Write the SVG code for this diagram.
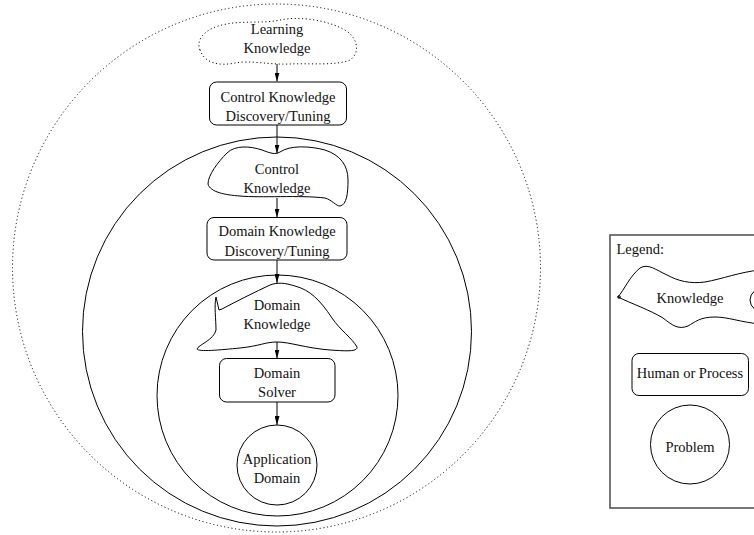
<svg xmlns="http://www.w3.org/2000/svg" width="754" height="535" viewBox="0 0 754 535">
<defs>
<marker id="ah" markerWidth="9" markerHeight="5" refX="9" refY="2.5" orient="auto" markerUnits="userSpaceOnUse">
<path d="M0,0 L9,2.5 L0,5 Z" fill="#000"/>
</marker>
<style>
text{font-family:'Liberation Serif','DejaVu Serif',serif;font-size:14.5px;fill:#111;text-anchor:middle}
.s{fill:none;stroke:#000;stroke-width:1}
.d{fill:none;stroke:#000;stroke-width:1;stroke-dasharray:1.1 2.6}
.c{fill:none;stroke:#000;stroke-width:1;marker-end:url(#ah)}
</style>
</defs>
<rect width="754" height="535" fill="#fff"/>

<g id="regions">
<circle class="d" cx="276.5" cy="268" r="264"/>
<circle class="s" cx="277" cy="331.5" r="194.5"/>
<circle class="s" cx="277.5" cy="395.5" r="120.5"/>
</g>

<g id="learning-knowledge">
<path class="d" d="M200,50 C195,38 208,28 222,25 C242,20 262,24 280,20 C300,16 330,20 348,32 C360,42 358,55 350,60 C335,66 310,63 290,64 C270,65 250,60 235,63 C220,66 205,64 200,50 Z"/>
<text x="277" y="34">Learning</text>
<text x="277" y="53.3">Knowledge</text>
</g>

<g id="control-discovery">
<rect class="s" x="209.5" y="82" width="137" height="43" rx="7"/>
<text x="278" y="101.5">Control Knowledge</text>
<text x="278" y="121">Discovery/Tuning</text>
</g>

<g id="control-knowledge">
<path class="s" d="M227,153 C235,145 250,146 262,150 C270,153 275,155 280,152 C290,145 310,146 325,150 C340,155 348,165 348,180 C348,192 347,205 340,206 C336,206 332,200 325,198 C300,195 260,198 240,196 C225,195 210,192 208,184 C208,175 218,162 227,153 Z"/>
<text x="277" y="174.3">Control</text>
<text x="277" y="193.3">Knowledge</text>
</g>

<g id="domain-discovery">
<rect class="s" x="207" y="217.5" width="140" height="42.5" rx="7"/>
<text x="277" y="236">Domain Knowledge</text>
<text x="277" y="256">Discovery/Tuning</text>
</g>

<g id="domain-knowledge">
<path class="s" d="M222,309 L219,310 L216,297 C214,305 216,320 216,330 C214,340 198,345 197,349 C198,352 220,350 240,348 C260,346 265,342 277,342 C290,342 305,348 330,350 C345,351 358,352 357,347 C352,338 340,330 332,318 C320,300 310,290 295,286 C285,283 278,282 270,285 C255,292 237,301 222,309 Z"/>
<text x="277" y="310">Domain</text>
<text x="277" y="329.3">Knowledge</text>
</g>

<g id="domain-solver">
<rect class="s" x="219.5" y="358.5" width="115.5" height="43.5" rx="7"/>
<text x="277" y="378.3">Domain</text>
<text x="277" y="396.7">Solver</text>
</g>

<g id="application-domain">
<circle class="s" cx="277" cy="465" r="40"/>
<text x="277" y="464">Application</text>
<text x="277" y="483.3">Domain</text>
</g>

<g id="connectors">
<line class="c" x1="277" y1="64" x2="277" y2="81.5"/>
<line class="c" x1="277" y1="125" x2="277" y2="153.5"/>
<line class="c" x1="277" y1="198" x2="277" y2="217.5"/>
<line class="c" x1="277" y1="260" x2="277" y2="283"/>
<line class="c" x1="277" y1="342" x2="277" y2="358.5"/>
<line class="c" x1="277" y1="402" x2="277" y2="425"/>
</g>

<g id="legend">
<rect x="610" y="235" width="170" height="273" fill="none" stroke="#555" stroke-width="1.6"/>
<text x="616.5" y="254.3" style="text-anchor:start">Legend:</text>
<g id="legend-knowledge">
<path class="s" d="M618,297 C624,290 630,276 640,268 C648,263 656,270 667,275 C678,281 690,284 705,282 C722,279 740,272 760,270 M618,297 C630,303 650,310 663,318 C672,325 678,330 688,326 C695,322 700,317 715,317 C728,317 740,322 760,324"/>
<circle class="s" cx="619" cy="297" r="1.3"/>
<text x="690" y="303.3">Knowledge</text>
<ellipse class="s" cx="766" cy="300" rx="16" ry="13"/>
</g>
<g id="legend-process">
<rect class="s" x="632" y="353.5" width="116.5" height="42" rx="7"/>
<text x="690" y="378.3">Human or Process</text>
</g>
<g id="legend-problem">
<circle class="s" cx="690" cy="444.5" r="39.5"/>
<text x="690" y="451.7">Problem</text>
</g>
</g>
</svg>
